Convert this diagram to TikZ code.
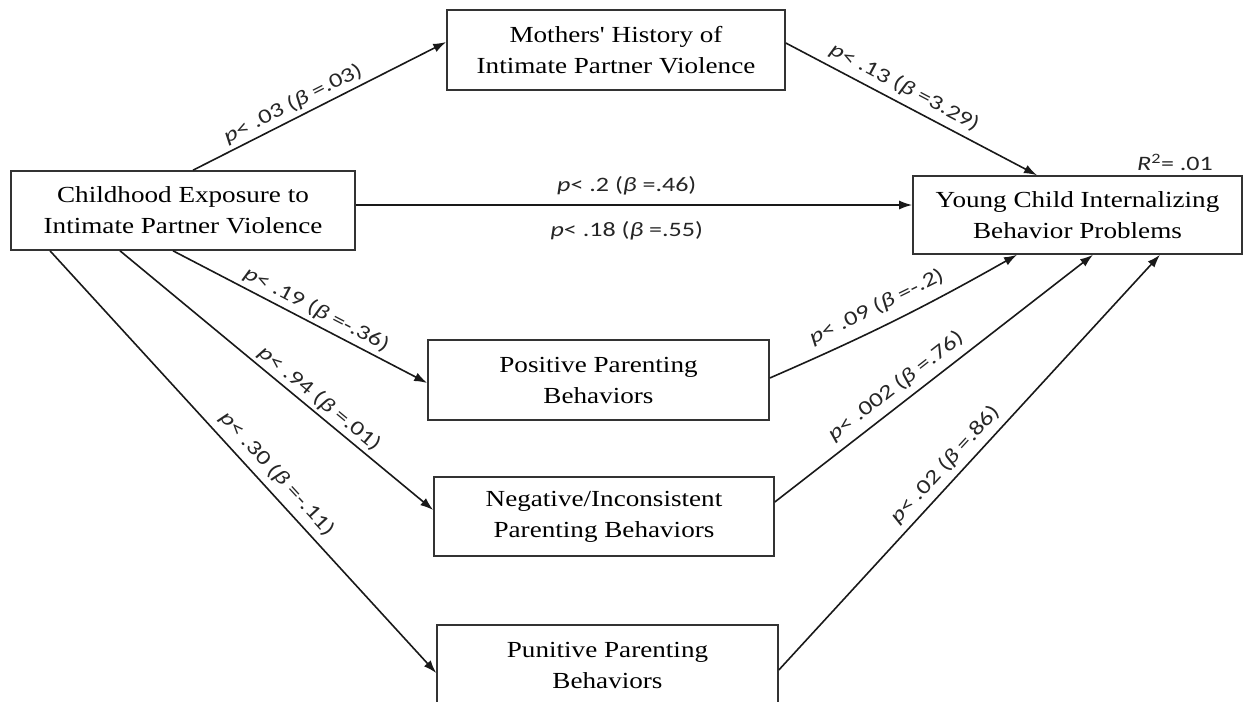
\documentclass[tikz,border=0pt]{standalone}
\usepackage{fontspec}
\usetikzlibrary{arrows.meta}
\newfontfamily\boxfont[FakeStretch=1.18]{Liberation Serif}
\newfontfamily\lblfont[FakeStretch=1.27]{Carlito}
\newcommand{\pp}{\textit{p}}
\newcommand{\bb}{\textit{β}}
\begin{document}
\begin{tikzpicture}[x=1pt,y=-1pt,
  box/.style={draw=black!80, line width=1.6pt, align=center, inner sep=0pt,
    font=\boxfont\fontsize{23pt}{31pt}\selectfont},
  conn/.style={draw=black!90, line width=1.6pt, -{Latex[length=13pt,width=9pt]}},
  lbl/.style={font=\lblfont\fontsize{20.5pt}{24pt}\selectfont, inner sep=0pt, text=black!85}]
\useasboundingbox (0,0) rectangle (1254,702);
\node[box, minimum width=344pt, minimum height=79pt] (A) at (183,210.5) {Childhood Exposure to\\Intimate Partner Violence};
\node[box, minimum width=338pt, minimum height=80pt] (M) at (616,50) {Mothers' History of\\Intimate Partner Violence};
\node[box, minimum width=329pt, minimum height=78pt] (Y) at (1077.5,215) {Young Child Internalizing\\Behavior Problems};
\node[box, minimum width=341pt, minimum height=80pt] (P) at (598.5,380) {Positive Parenting\\Behaviors};
\node[box, minimum width=340pt, minimum height=79pt] (N) at (604,516.5) {Negative/Inconsistent\\Parenting Behaviors};
\node[box, minimum width=341pt, minimum height=80pt] (U) at (607.5,665) {Punitive Parenting\\Behaviors};
\node[lbl] (r2) at ([xshift=97.5pt,yshift=13pt]Y.north) {\textit{R}\textsuperscript{2}= .01};

\draw[conn] ([xshift=10pt]A.north) -- node[lbl, sloped, pos=0.42, above=4pt] {\pp< .03 (\bb\ =.03)} ([yshift=8pt]M.west);
\draw[conn] ([yshift=7pt]M.east) -- node[lbl, sloped, pos=0.443, above=6pt] {\pp< .13 (\bb\ =3.29)} ([xshift=-40.5pt]Y.north);
\draw[conn] ([yshift=5.5pt]A.east) -- node[lbl, pos=0.487, above=9pt] {\pp< .2 (\bb\ =.46)} node[lbl, pos=0.487, below=16pt] {\pp< .18 (\bb\ =.55)} ([yshift=5.5pt]A.east -| Y.west);
\draw[conn] ([xshift=-10pt]A.south) -- node[lbl, sloped, pos=0.539, above=4pt] {\pp< .19 (\bb\ =-.36)} ([yshift=-3pt]P.west);
\draw[conn] ([xshift=-63pt]A.south) -- node[lbl, sloped, pos=0.61, above=3pt] {\pp< .94 (\bb\ =.01)} ([yshift=6.5pt]N.west);
\draw[conn] ([xshift=-133pt]A.south) -- node[lbl, sloped, pos=0.556, above=7pt] {\pp< .30 (\bb\ =-.11)} ([yshift=-8pt]U.west);
\draw[conn] ([yshift=2pt]P.east) to[bend right=3] node[lbl, sloped, pos=0.457, above=10pt] {\pp< .09 (\bb\ =-.2)} ([xshift=-60.5pt]Y.south);
\draw[conn] ([yshift=14.5pt]N.east) -- node[lbl, sloped, pos=0.413, above=7pt] {\pp< .002 (\bb\ =.76)} ([xshift=15.5pt]Y.south);
\draw[conn] ([yshift=-5pt]U.east) -- node[lbl, sloped, pos=0.468, above=6pt] {\pp< .02 (\bb\ =.86)} ([xshift=82.5pt]Y.south);
\end{tikzpicture}
\end{document}
